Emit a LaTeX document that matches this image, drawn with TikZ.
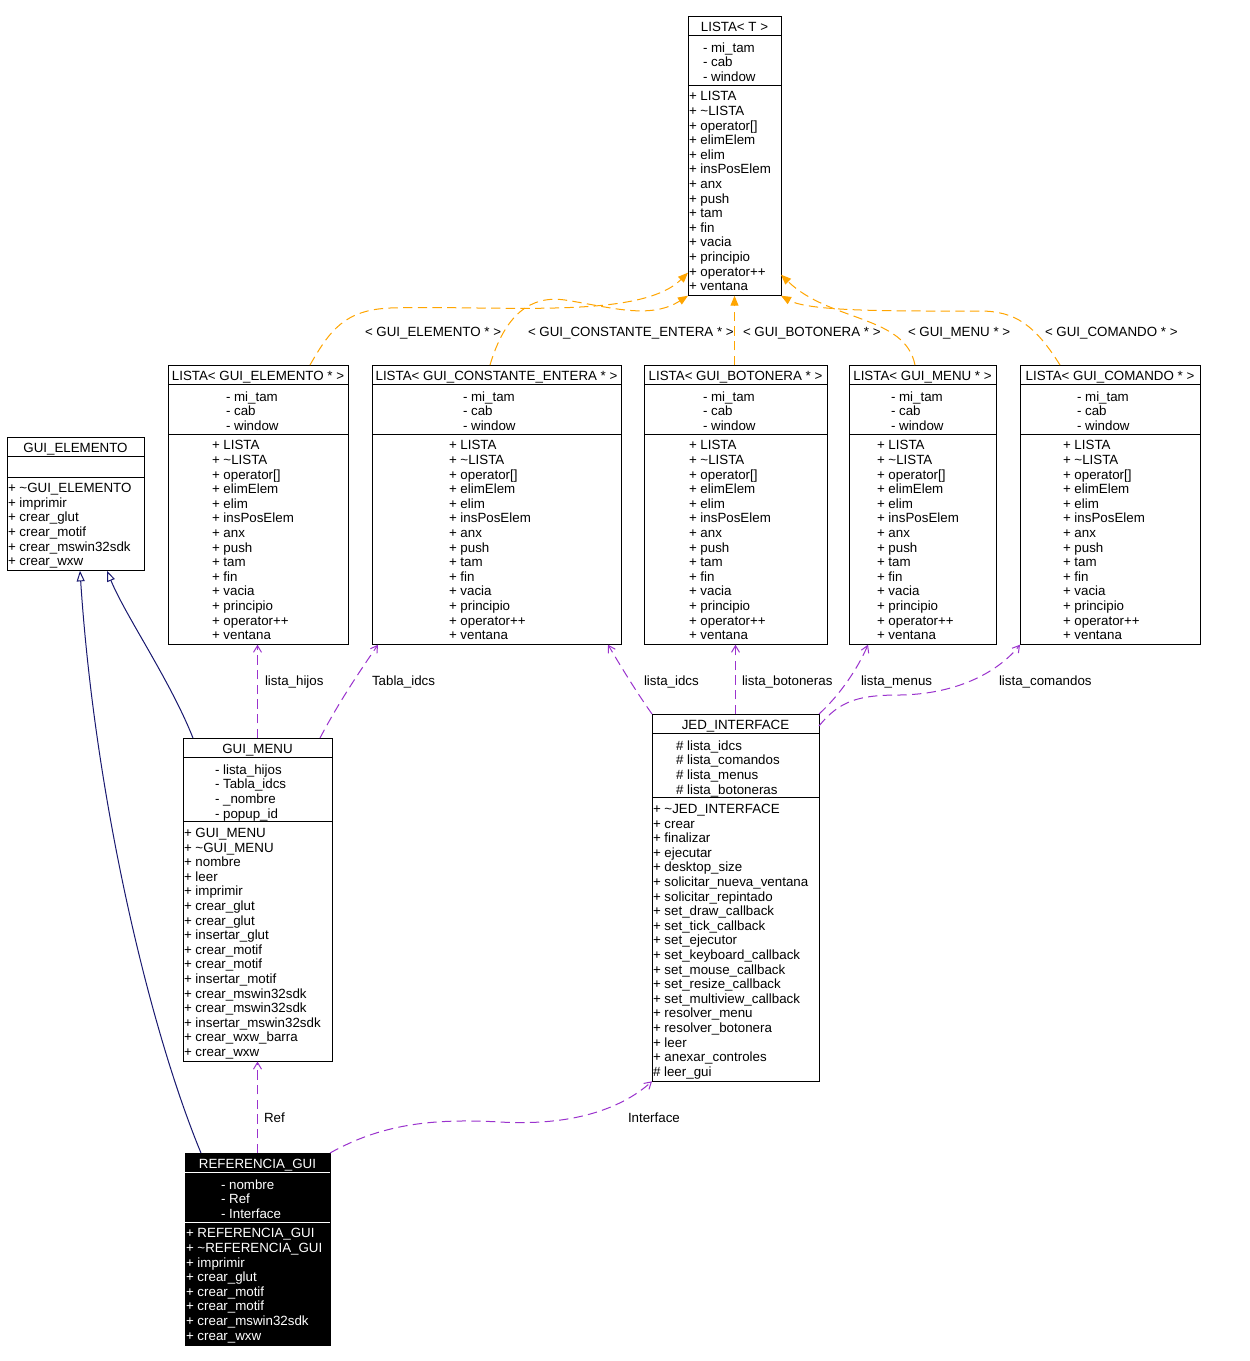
\documentclass[tikz,border=0pt]{standalone}
\usepackage{fontspec}
\setmainfont{Liberation Sans}
\usetikzlibrary{arrows.meta,fit,calc}
\definecolor{eorange}{HTML}{FFA500}
\definecolor{epurple}{HTML}{9A32CD}
\definecolor{enavy}{HTML}{191970}
\newcommand\tld{\textasciitilde}
\def\cbgeom#1,#2,#3,#4,#5,#6,#7\relax{\def\cbL{#1}\def\cbR{#2}\def\cbT{#3}\def\cbNa{#4}\def\cbNm{#5}\def\cbAx{#6}\def\cbMx{#7}}
% #1 name, #2 geometry (left,right,top,nattr,nmeth,attrx,methx), #3 title, #4 attrs, #5 methods
\newcommand\classbox[5]{%
  \cbgeom#2\relax
  \pgfmathsetmacro\cbSa{\cbT+19}%
  \pgfmathsetmacro\cbSb{\cbSa+17.3+(max(\cbNa,1)-1)*14.6+3.7}%
  \pgfmathsetmacro\cbB{\cbSb+15.7+(\cbNm-1)*14.6+5}%
  \node[cbframe,fit={(\cbL,\cbT) (\cbR,\cbB)}] (#1) {};
  \draw[cbline] (\cbL,\cbSa) -- (\cbR,\cbSa) (\cbL,\cbSb) -- (\cbR,\cbSb);
  \node[cbtext,anchor=base] (#1-title) at ({(\cbL+\cbR)/2},{\cbT+15.7}) {#3};
  \ifnum\cbNa>0
    \foreach \cbitem [count=\i] in #4 {\node[cbtext,anchor=base west] (#1-a\i) at (\cbAx,{\cbSa+17.3+(\i-1)*14.6}) {\cbitem};}
  \fi
  \foreach \cbitem [count=\i] in #5 {\node[cbtext,anchor=base west] (#1-m\i) at (\cbMx,{\cbSb+15.7+(\i-1)*14.6}) {\cbitem};}
}
\def\lstA{- mi\_tam, - cab, - window}
\def\lstM{+ LISTA, + \tld LISTA, + operator[], + elimElem, + elim, + insPosElem, + anx, + push, + tam, + fin, + vacia, + principio, + operator++, + ventana}
\def\noattr{}
\def\geM{+ \tld GUI\_ELEMENTO, + imprimir, + crear\_glut, + crear\_motif, + crear\_mswin32sdk, + crear\_wxw}
\def\gmA{- lista\_hijos, - Tabla\_idcs, - \_nombre, - popup\_id}
\def\gmM{+ GUI\_MENU, + \tld GUI\_MENU, + nombre, + leer, + imprimir, + crear\_glut, + crear\_glut, + insertar\_glut, + crear\_motif, + crear\_motif, + insertar\_motif, + crear\_mswin32sdk, + crear\_mswin32sdk, + insertar\_mswin32sdk, + crear\_wxw\_barra, + crear\_wxw}
\def\jdA{\# lista\_idcs, \# lista\_comandos, \# lista\_menus, \# lista\_botoneras}
\def\jdM{+ \tld JED\_INTERFACE, + crear, + finalizar, + ejecutar, + desktop\_size, + solicitar\_nueva\_ventana, + solicitar\_repintado, + set\_draw\_callback, + set\_tick\_callback, + set\_ejecutor, + set\_keyboard\_callback, + set\_mouse\_callback, + set\_resize\_callback, + set\_multiview\_callback, + resolver\_menu, + resolver\_botonera, + leer, + anexar\_controles, \# leer\_gui}
\def\rfA{- nombre, - Ref, - Interface}
\def\rfM{+ REFERENCIA\_GUI, + \tld REFERENCIA\_GUI, + imprimir, + crear\_glut, + crear\_motif, + crear\_motif, + crear\_mswin32sdk, + crear\_wxw}
\tikzset{
  cbframe/.style={draw=black, line width=0.75pt, inner sep=0pt, outer sep=0pt, fill=white},
  cbline/.style={draw=black, line width=0.75pt},
  cbtext/.style={inner sep=0pt, outer sep=0pt, font=\fontsize{10}{11}\selectfont, text=black},
  tmpl/.style={draw=eorange, line width=0.75pt, dash pattern=on 7pt off 4pt, -{Triangle[length=7.5pt,width=6pt]}},
  usage/.style={draw=epurple, line width=0.75pt, dash pattern=on 7pt off 4pt, -{Straight Barb[length=5pt,width=6pt]}},
  inh/.style={draw=enavy, line width=0.75pt, -{Triangle[open,length=8pt,width=6pt]}},
  elabel/.style={inner sep=0pt, outer sep=0pt, font=\fontsize{10}{11}\selectfont, anchor=base west},
}
\begin{document}
\begin{tikzpicture}[x=0.75pt,y=-0.75pt]
\fill[white] (0,0) rectangle (1250,1361);
\useasboundingbox (0,0) rectangle (1250,1361);
% classes
\classbox{listaT}{688,781,16,3,14,703,689}{LISTA< T >}{\lstA}{\lstM}
\classbox{lelem}{168,348,365,3,14,226,212}{LISTA< GUI\_ELEMENTO * >}{\lstA}{\lstM}
\classbox{lconst}{372,621,365,3,14,463,449}{LISTA< GUI\_CONSTANTE\_ENTERA * >}{\lstA}{\lstM}
\classbox{lbot}{644,827,365,3,14,703,689}{LISTA< GUI\_BOTONERA * >}{\lstA}{\lstM}
\classbox{lmenu}{849,996,365,3,14,891,877}{LISTA< GUI\_MENU * >}{\lstA}{\lstM}
\classbox{lcom}{1020,1200,365,3,14,1077,1063}{LISTA< GUI\_COMANDO * >}{\lstA}{\lstM}
\classbox{guielem}{7,144,437,0,6,8,8}{GUI\_ELEMENTO}{\noattr}{\geM}
\classbox{guimenu}{183,332,738,4,16,215,184}{GUI\_MENU}{\gmA}{\gmM}
\classbox{jed}{652,819,714,4,19,676,653}{JED\_INTERFACE}{\jdA}{\jdM}
\begin{scope}[cbframe/.append style={fill=black}, cbline/.append style={draw=white}, cbtext/.append style={text=white}]
\classbox{refgui}{185,330,1153,3,8,221,186}{REFERENCIA\_GUI}{\rfA}{\rfM}
\end{scope}
% template instantiation edges
\draw[tmpl] ($(lelem.north west)+(142,0)$) .. controls (330,330) and (345,310) .. (390,308) .. controls (500,305) and (640,320) .. ($(listaT.south west)+(0,-23)$);
\draw[tmpl] ($(lconst.north west)+(118,0)$) .. controls (505,315) and (530,295) .. (565,300) .. controls (610,307) and (650,320) .. (listaT.south west);
\draw[tmpl] (listaT.south |- lbot.north) -- (listaT.south);
\draw[tmpl] ($(lmenu.north west)+(66,0)$) .. controls (905,315) and (830,322) .. ($(listaT.south east)+(0,-21)$);
\draw[tmpl] ($(lcom.north west)+(40,0)$) .. controls (1035,325) and (1015,311) .. (980,311) .. controls (900,311) and (810,312) .. (listaT.south east);
\node[elabel] (t1) at (365,336) {< GUI\_ELEMENTO * >};
\node[elabel] (t2) at (528,336) {< GUI\_CONSTANTE\_ENTERA * >};
\node[elabel] (t3) at (743,336) {< GUI\_BOTONERA * >};
\node[elabel] (t4) at (908,336) {< GUI\_MENU * >};
\node[elabel] (t5) at (1045,336) {< GUI\_COMANDO * >};
% usage edges
\draw[usage] (guimenu.north) -- (guimenu.north |- lelem.south);
\draw[usage] ($(guimenu.north west)+(137,0)$) .. controls (340,700) and (362,668) .. ($(lconst.south west)+(6,0)$);
\draw[usage] (jed.north west) .. controls (635,690) and (620,665) .. ($(lconst.south east)+(-13,0)$);
\draw[usage] (jed.north) -- (jed.north |- lbot.south);
\draw[usage] (jed.north east) .. controls (840,695) and (858,668) .. ($(lmenu.south west)+(19,0)$);
\draw[usage] ($(jed.north east)+(0,12)$) .. controls (840,700) and (860,695) .. (900,695) .. controls (960,694) and (1000,670) .. (lcom.south west);
\draw[usage] (refgui.north) -- (refgui.north |- guimenu.south);
\draw[usage] (refgui.north east) .. controls (380,1125) and (430,1118) .. (500,1122) .. controls (570,1126) and (620,1110) .. (jed.south west);
\node[elabel] (u1) at (265,685) {lista\_hijos};
\node[elabel] (u2) at (372,685) {Tabla\_idcs};
\node[elabel] (u3) at (644,685) {lista\_idcs};
\node[elabel] (u4) at (742,685) {lista\_botoneras};
\node[elabel] (u5) at (861,685) {lista\_menus};
\node[elabel] (u6) at (999,685) {lista\_comandos};
\node[elabel] (u7) at (264,1122) {Ref};
\node[elabel] (u8) at (628,1122) {Interface};
% inheritance edges
\draw[inh] ($(guimenu.north west)+(10,0)$) .. controls (170,680) and (125,615) .. ($(guielem.south west)+(100,0)$);
\draw[inh] ($(refgui.north west)+(16,0)$) .. controls (150,1030) and (95,800) .. ($(guielem.south west)+(73,0)$);
\end{tikzpicture}
\end{document}
